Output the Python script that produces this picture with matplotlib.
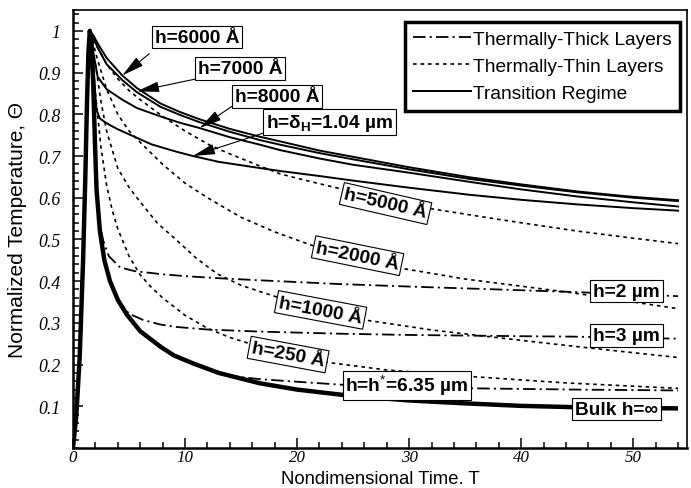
import matplotlib
matplotlib.use('Agg')
import matplotlib.pyplot as plt
from matplotlib.lines import Line2D
from matplotlib.ticker import FixedLocator, MultipleLocator

plt.rcParams['font.family'] = ['Liberation Sans', 'DejaVu Sans']
plt.rcParams['mathtext.fontset'] = 'custom'
plt.rcParams['mathtext.rm'] = 'Liberation Sans'
plt.rcParams['mathtext.bf'] = 'Liberation Sans:bold'
plt.rcParams['mathtext.it'] = 'Liberation Sans:italic'
plt.rcParams['lines.scale_dashes'] = False

# ---------------- data ----------------
rise_T = [0.0, 0.3, 0.6, 0.9, 1.1, 1.25, 1.38]
rise_Th = [0.0, 0.08, 0.22, 0.45, 0.65, 0.83, 0.95]

# bulk h = infinity
bulk_T = [1.5, 1.65, 1.8, 1.95, 2.1, 2.4, 2.8, 3.3, 4.0, 4.8, 6.0, 7.8, 9.0, 10.7, 13, 16.7, 20, 24.5, 30, 35, 40, 44.6, 50, 54]
bulk_Th = [1.0, 0.97, 0.88, 0.74, 0.62, 0.52, 0.45, 0.40, 0.355, 0.32, 0.28, 0.243, 0.222, 0.203, 0.18, 0.155, 0.14, 0.126, 0.114, 0.107, 0.101, 0.098, 0.096, 0.095]

# thermally-thick layers (dash-dot)
thick2_T = [1.5, 1.65, 1.8, 1.95, 2.1, 2.4, 2.7, 3.2, 4.2, 5.5, 7.8, 10, 13, 16.7, 23.8, 30, 38, 44.6, 54]
thick2_Th = [1.0, 0.97, 0.88, 0.74, 0.62, 0.535, 0.497, 0.46, 0.433, 0.424, 0.417, 0.412, 0.407, 0.402, 0.393, 0.387, 0.38, 0.374, 0.364]
thick3_T = [1.5, 1.65, 1.8, 1.95, 2.1, 2.4, 2.8, 3.3, 3.8, 4.2, 5.0, 6.25, 7.8, 9.3, 12, 16.7, 23.8, 30, 40, 44.6, 54]
thick3_Th = [1.0, 0.97, 0.88, 0.74, 0.62, 0.52, 0.45, 0.40, 0.37, 0.348, 0.322, 0.307, 0.296, 0.29, 0.284, 0.279, 0.274, 0.271, 0.268, 0.267, 0.262]
thick635_T = [1.5, 1.65, 1.8, 1.95, 2.1, 2.4, 2.8, 3.3, 4.0, 4.8, 6.0, 7.8, 9.0, 10.7, 13, 14.3, 16.7, 18.8, 23.8, 30, 35.7, 45, 54]
thick635_Th = [1.0, 0.97, 0.88, 0.74, 0.62, 0.52, 0.45, 0.40, 0.355, 0.32, 0.28, 0.243, 0.222, 0.203, 0.18, 0.172, 0.165, 0.161, 0.152, 0.147, 0.143, 0.14, 0.138]

# thermally-thin layers (dotted)
thin250_T = [1.5, 1.7, 2.0, 2.5, 3.0, 3.5, 4.0, 5.0, 6.0, 7.0, 8.0, 10, 12, 14, 15.8, 19, 22.8, 28, 35.7, 44, 54]
thin250_Th = [1.0, 0.95, 0.85, 0.72, 0.63, 0.57, 0.525, 0.46, 0.415, 0.385, 0.36, 0.318, 0.287, 0.265, 0.25, 0.226, 0.205, 0.187, 0.171, 0.156, 0.143]
thin1000_T = [1.5, 1.7, 2.0, 2.5, 3.0, 4.0, 5.0, 5.7, 7.5, 9.3, 11, 12.9, 15, 16.7, 18.2, 22, 26, 32, 38.7, 46, 54]
thin1000_Th = [1.0, 0.97, 0.92, 0.83, 0.76, 0.67, 0.625, 0.6, 0.54, 0.497, 0.455, 0.417, 0.39, 0.375, 0.362, 0.332, 0.307, 0.283, 0.262, 0.24, 0.217]
thin2000_T = [1.5, 1.8, 2.2, 3.0, 4.0, 5.0, 6.25, 8.0, 10, 12, 15, 18, 21.3, 25, 29.5, 35, 40, 44.6, 50, 54]
thin2000_Th = [1.0, 0.97, 0.93, 0.86, 0.8, 0.76, 0.726, 0.68, 0.635, 0.6, 0.553, 0.518, 0.486, 0.458, 0.43, 0.405, 0.388, 0.372, 0.35, 0.334]
thin5000_T = [1.5, 1.8, 2.2, 3.0, 4.0, 5.0, 6.0, 8.0, 10, 12.2, 14, 16.4, 18.5, 21, 24.1, 28, 32.1, 38, 45, 50, 54]
thin5000_Th = [1.0, 0.98, 0.96, 0.92, 0.885, 0.857, 0.835, 0.795, 0.76, 0.726, 0.705, 0.679, 0.657, 0.64, 0.62, 0.595, 0.573, 0.548, 0.52, 0.503, 0.49]

# transition regime (solid)
tr_T = [1.5, 1.8, 2.2, 3.0, 4.4, 5.7, 7.8, 9.5, 11.3, 14, 16.7, 18.5, 22, 25, 30, 35.4, 40, 45, 50, 54]
tr6000_Th = [1.0, 0.99, 0.97, 0.935, 0.893, 0.863, 0.826, 0.806, 0.788, 0.765, 0.746, 0.735, 0.713, 0.698, 0.673, 0.649, 0.632, 0.615, 0.602, 0.594]
tr7000_Th = [1.0, 0.985, 0.96, 0.92, 0.882, 0.853, 0.818, 0.799, 0.781, 0.758, 0.738, 0.727, 0.707, 0.692, 0.668, 0.645, 0.629, 0.613, 0.600, 0.592]
tr8000_Th = [1.0, 0.95, 0.89, 0.86, 0.835, 0.815, 0.795, 0.78, 0.767, 0.745, 0.727, 0.714, 0.694, 0.679, 0.66, 0.638, 0.62, 0.603, 0.589, 0.579]
trdH_T = [1.5, 1.7, 1.9, 2.1, 2.4, 2.8, 3.3, 4.0, 5.0, 7.0, 9.0, 10.7, 13, 16.7, 18.5, 22, 25, 30, 35.4, 40, 45, 50, 54]
trdH_Th = [1.0, 0.96, 0.88, 0.81, 0.79, 0.782, 0.774, 0.764, 0.752, 0.728, 0.712, 0.70, 0.686, 0.671, 0.664, 0.652, 0.641, 0.624, 0.607, 0.595, 0.584, 0.575, 0.569]

x_ticks = [0, 10, 20, 30, 40, 50]
y_ticks = [0.1, 0.2, 0.3, 0.4, 0.5, 0.6, 0.7, 0.8, 0.9, 1.0]
y_tick_labels = ['0.1', '0.2', '0.3', '0.4', '0.5', '0.6', '0.7', '0.8', '0.9', '1']

legend_labels = ['Thermally-Thick Layers', 'Thermally-Thin Layers', 'Transition Regime']

# ---------------- styles ----------------
DASHDOT = (0, (9, 3, 1.5, 3))
DOTTED = (0, (2.6, 2.8))

FIG_W, FIG_H = 691, 489
AX_L, AX_R, AX_T, AX_B = 73, 687, 11, 449
fig = plt.figure(figsize=(FIG_W / 100, FIG_H / 100), dpi=100)
ax = fig.add_axes([AX_L / FIG_W, 1 - AX_B / FIG_H, (AX_R - AX_L) / FIG_W, (AX_B - AX_T) / FIG_H])
ax.set_xlim(0, 54.8)
ax.set_ylim(0, 1.05)

def full(T, Th):
    return rise_T + T, rise_Th + Th

for T, Th in [(thin250_T, thin250_Th), (thin1000_T, thin1000_Th),
              (thin2000_T, thin2000_Th), (thin5000_T, thin5000_Th)]:
    x, y = full(T, Th)
    ax.plot(x, y, color='black', lw=1.2, ls=DOTTED)

for T, Th in [(thick2_T, thick2_Th), (thick3_T, thick3_Th), (thick635_T, thick635_Th)]:
    x, y = full(T, Th)
    ax.plot(x, y, color='black', lw=1.3, ls=DASHDOT)

for Th in [tr6000_Th, tr7000_Th, tr8000_Th]:
    x, y = full(tr_T, Th)
    ax.plot(x, y, color='black', lw=1.4, ls='-')
x, y = full(trdH_T, trdH_Th)
ax.plot(x, y, color='black', lw=1.4, ls='-')

x, y = full(bulk_T, bulk_Th)
ax.plot(x, y, color='black', lw=3.2, ls='-', solid_capstyle='butt')

# ---------------- labels ----------------
box = dict(boxstyle='square,pad=0.14', fc='white', ec='black', lw=0.8)
lab_fs = 13.8

def blabel(x, y, s, rot=0):
    ax.text(x, y, s, fontsize=lab_fs, fontweight='bold', ha='center', va='center',
            rotation=rot, rotation_mode='anchor', bbox=box, zorder=5)

blabel(27.9, 0.586, 'h=5000 Å', -13)
blabel(25.4, 0.461, 'h=2000 Å', -11.5)
blabel(22.1, 0.331, 'h=1000 Å', -10.7)
blabel(19.2, 0.224, 'h=250 Å', -10.6)
blabel(29.8, 0.150, r'h=h$^{*}$=6.35 µm')
blabel(49.4, 0.376, 'h=2 µm')
blabel(49.4, 0.270, 'h=3 µm')
blabel(48.5, 0.093, 'Bulk h=∞')

arrow = dict(arrowstyle='-|>,head_length=0.55,head_width=0.13', mutation_scale=25,
             lw=0.8, color='black', shrinkA=0, shrinkB=0)
for (bx, by, s, tail, tip) in [
        (11.07, 0.985, 'h=6000 Å', (6.8, 0.945), (4.4, 0.893)),
        (14.9, 0.910, 'h=7000 Å', (11.2, 0.886), (5.7, 0.855)),
        (18.2, 0.843, 'h=8000 Å', (14.3, 0.821), (11.3, 0.767)),
        (22.9, 0.781, r'h=δ$_{\mathbf{H}}$=1.04 µm', (17.0, 0.755), (10.7, 0.700))]:
    ax.annotate('', xy=tip, xytext=tail, arrowprops=arrow, zorder=4)
    blabel(bx, by, s)

# ---------------- axes styling ----------------
ax.xaxis.set_major_locator(FixedLocator(x_ticks))
ax.xaxis.set_minor_locator(MultipleLocator(2))
ax.yaxis.set_major_locator(FixedLocator(y_ticks))
ax.yaxis.set_minor_locator(MultipleLocator(0.02))
ax.set_xticklabels([str(v) for v in x_ticks])
ax.set_yticklabels(y_tick_labels)
ax.tick_params(which='both', direction='in', top=False, right=False, width=1.1)
ax.tick_params(which='major', length=7)
ax.tick_params(which='minor', length=4)
ax.tick_params(axis='x', pad=1)
ax.tick_params(axis='y', pad=9)
for lbl in ax.get_xticklabels():
    lbl.set_fontfamily('Liberation Serif')
    lbl.set_fontstyle('italic')
    lbl.set_fontsize(12.2)
for lbl in ax.get_yticklabels():
    lbl.set_fontfamily('Liberation Serif')
    lbl.set_fontstyle('italic')
    lbl.set_fontsize(12.8)
for side in ['left', 'bottom']:
    ax.spines[side].set_linewidth(1.8)
for side in ['top', 'right']:
    ax.spines[side].set_linewidth(1.2)

ax.set_xlabel('Nondimensional Time. T', fontsize=13.3, va='bottom')
ax.xaxis.set_label_coords(0.5, -(FIG_H - 0.5 - AX_B) / (AX_B - AX_T))
ax.set_ylabel('Normalized Temperature, Θ', fontsize=15, labelpad=8)

handles = [Line2D([], [], color='black', lw=1.3, ls=DASHDOT),
           Line2D([], [], color='black', lw=1.2, ls=DOTTED),
           Line2D([], [], color='black', lw=1.4, ls='-')]
leg = ax.legend(handles, legend_labels, loc='upper right',
                bbox_to_anchor=((680 - AX_L) / (AX_R - AX_L), (AX_B - 23) / (AX_B - AX_T)),
                borderaxespad=0, fontsize=13.8, handlelength=3.0, handletextpad=0.1,
                labelspacing=0.5, borderpad=0.45, fancybox=False, framealpha=1,
                edgecolor='black')
leg.get_frame().set_linewidth(2.5)

fig.savefig('out.png', dpi=100)
